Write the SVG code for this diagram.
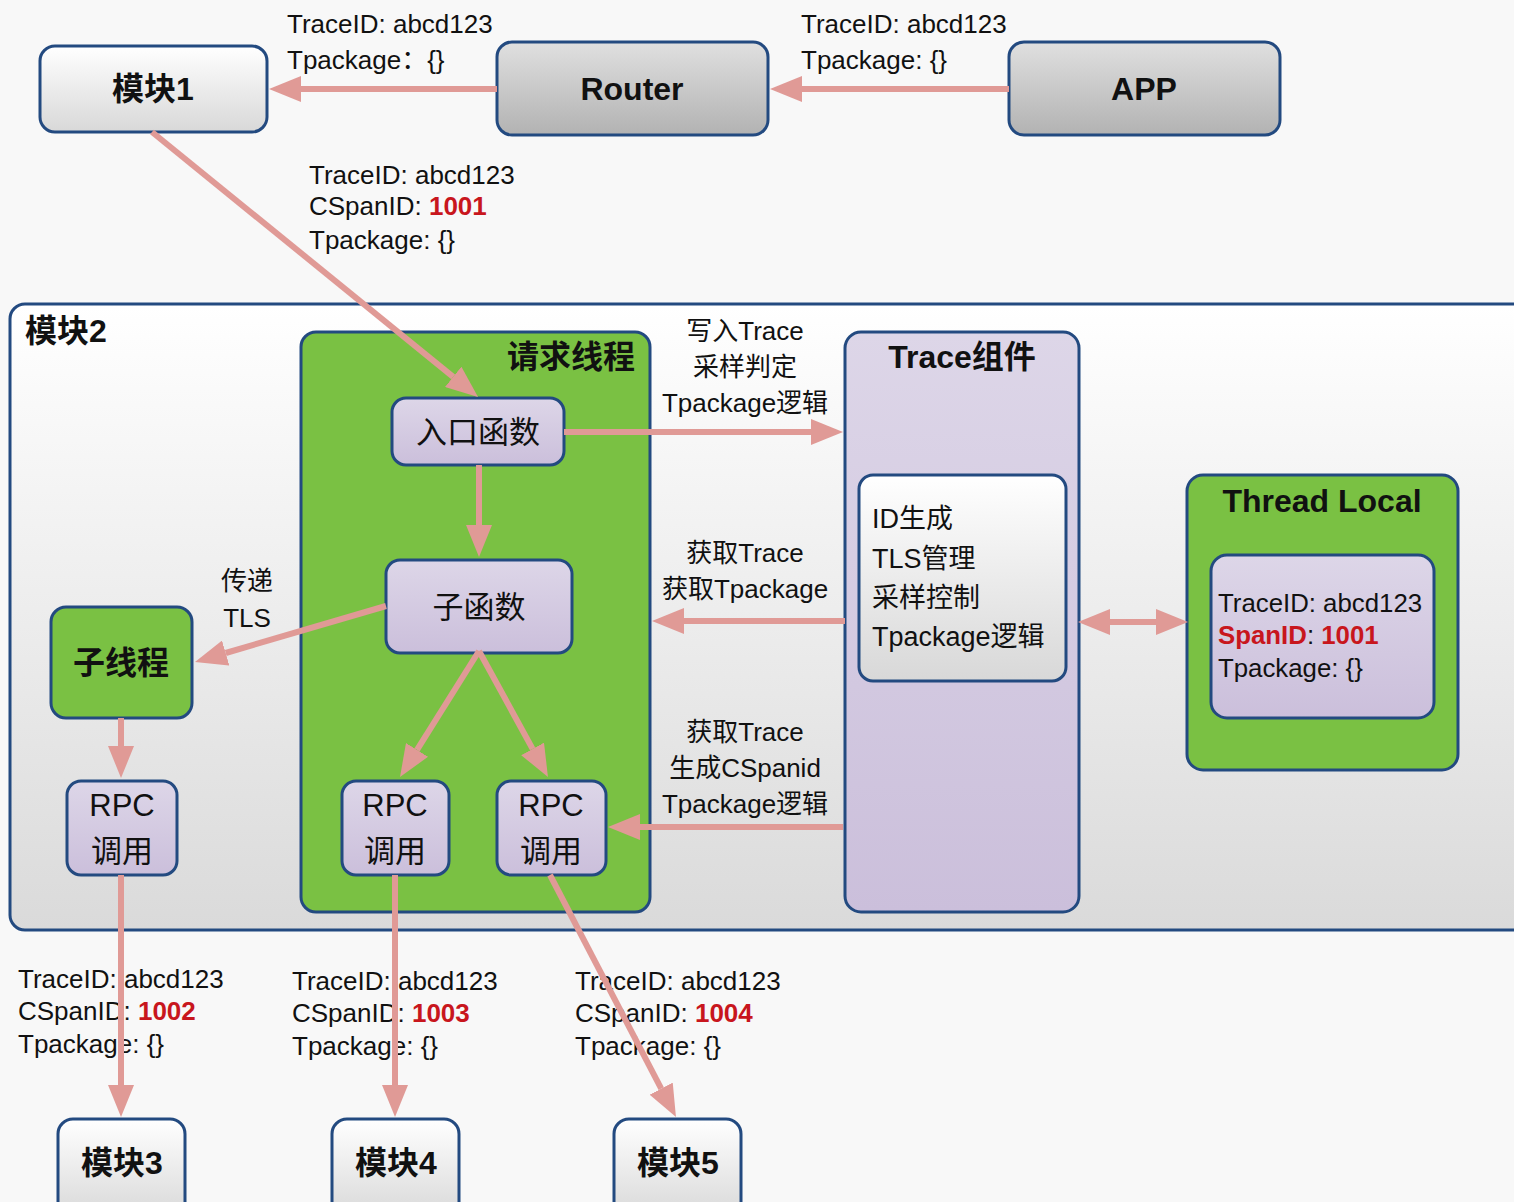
<svg xmlns="http://www.w3.org/2000/svg" width="1514" height="1202" viewBox="0 0 1514 1202">
  <defs>
    <linearGradient id="gWhite" x1="0" y1="0" x2="0" y2="1">
      <stop offset="0" stop-color="#ffffff"/>
      <stop offset="1" stop-color="#d8d8d8"/>
    </linearGradient>
    <linearGradient id="gGray" x1="0" y1="0" x2="0" y2="1">
      <stop offset="0" stop-color="#e0e0e0"/>
      <stop offset="1" stop-color="#b2b2b2"/>
    </linearGradient>
    <linearGradient id="gLav" x1="0" y1="0" x2="0" y2="1">
      <stop offset="0" stop-color="#ddd6e8"/>
      <stop offset="1" stop-color="#cbbfdb"/>
    </linearGradient>
    <linearGradient id="gFrame" x1="0" y1="0" x2="0" y2="1">
      <stop offset="0" stop-color="#ffffff"/>
      <stop offset="1" stop-color="#dadada"/>
    </linearGradient>
    <marker id="head" viewBox="0 0 32 26" markerUnits="userSpaceOnUse" markerWidth="32" markerHeight="26" refX="0" refY="13" orient="auto-start-reverse">
      <path d="M0,0 L32,13 L0,26 z" fill="#e09a96"/>
    </marker>
    <style>
      .box { stroke: #234a80; stroke-width: 3; }
      .white { fill: url(#gWhite); }
      .gray { fill: url(#gGray); }
      .lav { fill: url(#gLav); }
      .green { fill: #7ac143; }
      text { font-family: "Liberation Sans", "Noto Sans CJK SC", sans-serif; fill: #111; }
      .title { font-size: 32px; font-weight: bold; }
      .fn { font-size: 31px; }
      .lbl { font-size: 26px; }
      .mid { text-anchor: middle; }
      .red { fill: #c8161d; font-weight: bold; }
      .conn { fill: none; stroke: #e09a96; stroke-width: 6; marker-end: url(#head); }
    </style>
  </defs>

  <rect width="1514" height="1202" fill="#f8f8f8"/>

  <!-- top row -->
  <g id="mod1">
    <rect class="box white" x="40" y="46" width="227" height="86" rx="15"/>
    <text class="title mid" x="153" y="100">模块1</text>
  </g>
  <g id="router">
    <rect class="box gray" x="497" y="42" width="271" height="93" rx="15"/>
    <text class="title mid" x="632" y="100">Router</text>
  </g>
  <g id="app">
    <rect class="box gray" x="1009" y="42" width="271" height="93" rx="15"/>
    <text class="title mid" x="1144" y="100">APP</text>
  </g>

  <!-- module 2 frame -->
  <g id="mod2">
    <rect class="box" fill="url(#gFrame)" x="10" y="304" width="1530" height="626" rx="15"/>
    <text class="title" x="25" y="342">模块2</text>
  </g>

  <g id="reqThread">
    <rect class="box green" x="301" y="332" width="349" height="580" rx="15"/>
    <text class="title" x="635" y="368" text-anchor="end">请求线程</text>
  </g>
  <g id="entry">
    <rect class="box lav" x="392" y="398" width="172" height="67" rx="14"/>
    <text class="fn mid" x="478" y="443">入口函数</text>
  </g>
  <g id="subfn">
    <rect class="box lav" x="386" y="560" width="186" height="93" rx="14"/>
    <text class="fn mid" x="479" y="618">子函数</text>
  </g>
  <g id="childThread">
    <rect class="box green" x="51" y="607" width="141" height="111" rx="15"/>
    <text class="title mid" x="121" y="674">子线程</text>
  </g>
  <g id="rpc1">
    <rect class="box lav" x="67" y="781" width="110" height="94" rx="14"/>
    <text class="fn mid" x="122" y="816">RPC</text>
    <text class="fn mid" x="122" y="862">调用</text>
  </g>
  <g id="rpc2">
    <rect class="box lav" x="342" y="781" width="107" height="94" rx="14"/>
    <text class="fn mid" x="395" y="816">RPC</text>
    <text class="fn mid" x="395" y="862">调用</text>
  </g>
  <g id="rpc3">
    <rect class="box lav" x="497" y="781" width="109" height="94" rx="14"/>
    <text class="fn mid" x="551" y="816">RPC</text>
    <text class="fn mid" x="551" y="862">调用</text>
  </g>

  <g id="traceComp">
    <rect class="box lav" x="845" y="332" width="234" height="580" rx="16"/>
    <text class="title mid" x="962" y="368">Trace组件</text>
    <rect class="box white" x="859" y="475" width="207" height="206" rx="14"/>
    <text style="font-size:27px" x="872" y="528">ID生成</text>
    <text style="font-size:27px" x="872" y="568">TLS管理</text>
    <text style="font-size:27px" x="872" y="607">采样控制</text>
    <text style="font-size:27px" x="872" y="646">Tpackage逻辑</text>
  </g>

  <g id="threadLocal">
    <rect class="box green" x="1187" y="475" width="271" height="295" rx="16"/>
    <text class="title mid" x="1322" y="512">Thread Local</text>
    <rect class="box lav" x="1211" y="555" width="223" height="163" rx="16"/>
    <text style="font-size:25.8px" x="1218" y="612">TraceID: abcd123</text>
    <text style="font-size:25.8px" x="1218" y="644"><tspan class="red">SpanID</tspan>: <tspan class="red">1001</tspan></text>
    <text style="font-size:25.8px" x="1218" y="677">Tpackage: {}</text>
  </g>

  <g id="mod3">
    <rect class="box white" x="58" y="1119" width="127" height="100" rx="15"/>
    <text class="title mid" x="122" y="1174">模块3</text>
  </g>
  <g id="mod4">
    <rect class="box white" x="332" y="1119" width="127" height="100" rx="15"/>
    <text class="title mid" x="396" y="1174">模块4</text>
  </g>
  <g id="mod5">
    <rect class="box white" x="614" y="1119" width="127" height="100" rx="15"/>
    <text class="title mid" x="678" y="1174">模块5</text>
  </g>

  <!-- edge labels -->
  <g id="labels">
    <text class="lbl" x="287" y="33">TraceID: abcd123</text>
    <text class="lbl" x="287" y="69">Tpackage：{}</text>
    <text class="lbl" x="801" y="33">TraceID: abcd123</text>
    <text class="lbl" x="801" y="69">Tpackage: {}</text>

    <text class="lbl" x="309" y="184">TraceID: abcd123</text>
    <text class="lbl" x="309" y="215">CSpanID: <tspan class="red">1001</tspan></text>
    <text class="lbl" x="309" y="249">Tpackage: {}</text>

    <text class="lbl mid" x="745" y="340">写入Trace</text>
    <text class="lbl mid" x="745" y="376">采样判定</text>
    <text class="lbl mid" x="745" y="412">Tpackage逻辑</text>

    <text class="lbl mid" x="745" y="562">获取Trace</text>
    <text class="lbl mid" x="745" y="598">获取Tpackage</text>

    <text class="lbl mid" x="745" y="741">获取Trace</text>
    <text class="lbl mid" x="745" y="777">生成CSpanid</text>
    <text class="lbl mid" x="745" y="813">Tpackage逻辑</text>

    <text class="lbl mid" x="247" y="590">传递</text>
    <text class="lbl mid" x="247" y="627">TLS</text>

    <text class="lbl" x="18" y="988">TraceID: abcd123</text>
    <text class="lbl" x="18" y="1020">CSpanID: <tspan class="red">1002</tspan></text>
    <text class="lbl" x="18" y="1053">Tpackage: {}</text>

    <text class="lbl" x="292" y="990">TraceID: abcd123</text>
    <text class="lbl" x="292" y="1022">CSpanID: <tspan class="red">1003</tspan></text>
    <text class="lbl" x="292" y="1055">Tpackage: {}</text>

    <text class="lbl" x="575" y="990">TraceID: abcd123</text>
    <text class="lbl" x="575" y="1022">CSpanID: <tspan class="red">1004</tspan></text>
    <text class="lbl" x="575" y="1055">Tpackage: {}</text>
  </g>

  <!-- connectors: each path ends at the arrowhead base; the marker supplies the tip -->
  <g id="connectors">
    <path class="conn" d="M497,89 H301"/>
    <path class="conn" d="M1009,89 H802"/>
    <path class="conn" d="M152,132 L453.2,376.8"/>
    <path class="conn" d="M564,432 H811"/>
    <path class="conn" d="M479,465 V525"/>
    <path class="conn" d="M386,606 L225.7,653"/>
    <path class="conn" d="M121,718 V746"/>
    <path class="conn" d="M479,651 L417,749.9"/>
    <path class="conn" d="M479,651 L532.6,748.9"/>
    <path class="conn" d="M845,621 H684"/>
    <path class="conn" d="M843,827 H640"/>
    <path class="conn" d="M1110,622 H1156" marker-start="url(#head)"/>
    <path class="conn" d="M121,875 V1085"/>
    <path class="conn" d="M395,875 V1085"/>
    <path class="conn" d="M550,875 L661.2,1088.6"/>
  </g>
</svg>
